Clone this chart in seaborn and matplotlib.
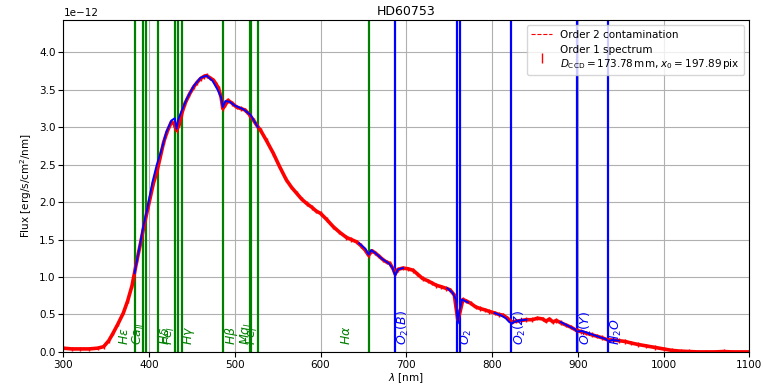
import numpy as np
import seaborn as sns
import matplotlib.pyplot as plt
from matplotlib import transforms

# Order 1 spectrum (flux in 1e-12 erg/s/cm2/nm)
spec_wl = [300, 310, 320, 330, 340, 347, 353, 358, 364, 370, 375, 380, 386, 390, 394,
           399, 405, 409, 413, 417, 421, 426, 429, 432, 435, 438, 442, 447, 452, 456,
           460, 464, 467, 471, 475, 478, 481, 484, 486, 489, 492, 497, 502, 507, 512,
           517, 522, 526, 530, 537, 545, 552, 560, 566, 572, 578, 584, 590, 595, 600,
           607, 615, 622, 630, 636, 642, 647, 652, 656, 660, 664, 668, 673, 677, 681,
           685, 687, 690, 696, 702, 708, 713, 719, 725, 730, 735, 741, 746, 751, 756,
           760, 763, 766, 770, 775, 781, 786, 792, 797, 803, 808, 813, 818, 823, 828,
           834, 840, 847, 853, 859, 863, 867, 871, 875, 880, 886, 892, 898, 904, 910,
           916, 922, 928, 935, 941, 948, 955, 962, 970, 980, 990, 1000, 1010, 1020, 1030,
           1040, 1050, 1060, 1070, 1080, 1090, 1100]
spec_flux = [0.05, 0.04, 0.04, 0.04, 0.05, 0.07, 0.15, 0.25, 0.38, 0.52, 0.68, 0.88, 1.23, 1.45, 1.68,
             1.94, 2.25, 2.40, 2.60, 2.80, 2.94, 3.07, 3.05, 2.96, 3.03, 3.18, 3.32, 3.44, 3.54, 3.60,
             3.65, 3.68, 3.69, 3.66, 3.63, 3.58, 3.52, 3.40, 3.25, 3.30, 3.36, 3.32, 3.27, 3.25, 3.23,
             3.17, 3.09, 3.02, 2.96, 2.82, 2.65, 2.48, 2.30, 2.20, 2.12, 2.04, 1.98, 1.93, 1.88, 1.85,
             1.77, 1.67, 1.60, 1.53, 1.50, 1.47, 1.42, 1.36, 1.29, 1.35, 1.32, 1.28, 1.23, 1.20, 1.18,
             1.10, 1.04, 1.10, 1.12, 1.11, 1.09, 1.04, 0.98, 0.95, 0.92, 0.89, 0.87, 0.85, 0.83, 0.76,
             0.43, 0.55, 0.70, 0.68, 0.65, 0.60, 0.58, 0.56, 0.54, 0.52, 0.50, 0.49, 0.45, 0.40, 0.41,
             0.42, 0.43, 0.43, 0.45, 0.44, 0.41, 0.44, 0.40, 0.42, 0.39, 0.36, 0.33, 0.29, 0.27, 0.25,
             0.23, 0.21, 0.19, 0.16, 0.16, 0.15, 0.14, 0.12, 0.10, 0.08, 0.06, 0.04, 0.02, 0.01, 0.005,
             0.0, 0.0, 0.0, 0.005, 0.0, 0.0, 0.0]
spec_err = 0.03

# Order 2 contamination (negligible, sits under the spectrum at the red end)
contam_wl = [1040, 1070, 1100]
contam_flux = [0.0, 0.0, 0.0]

# line fits (blue) around absorption features
fit_segments = {
    'A': ([383, 388, 393, 398, 404, 409, 414, 420, 426, 430, 432, 434, 438, 444, 452, 460, 467,
           474, 480, 484, 486, 489, 494, 500, 510, 518, 527],
          [1.05, 1.35, 1.66, 1.92, 2.27, 2.50, 2.68, 2.93, 3.09, 3.12, 2.98, 3.10, 3.22, 3.38, 3.55,
           3.66, 3.69, 3.62, 3.50, 3.40, 3.27, 3.35, 3.34, 3.29, 3.24, 3.17, 3.00]),
    'B': ([645, 652, 656, 659, 665, 672, 680, 684, 687, 690, 696],
          [1.45, 1.38, 1.30, 1.36, 1.31, 1.24, 1.18, 1.12, 1.02, 1.10, 1.12]),
    'C': ([748, 754, 758, 760, 762, 765, 772],
          [0.85, 0.79, 0.70, 0.38, 0.55, 0.70, 0.66]),
    'D': ([803, 810, 816, 820, 823, 826, 832, 840],
          [0.52, 0.49, 0.45, 0.40, 0.38, 0.40, 0.42, 0.43]),
    'E': ([880, 890, 897, 899, 905, 915, 925, 933, 936, 940, 948],
          [0.40, 0.34, 0.30, 0.27, 0.28, 0.24, 0.20, 0.17, 0.14, 0.16, 0.15]),
}

# spectral lines
stellar_lines = [383.5, 393.4, 396.8, 410.2, 430.8, 434.0, 438.4, 486.3, 517.3, 518.4, 527.0, 656.3]
atmo_lines = [686.7, 759.4, 762.5, 822.0, 898.8, 935.0]
stellar_labels = ['$H\\epsilon$', '$Ca_{II}$', '$H\\delta$', '$Fe_I$', '$H\\gamma$',
                  '$H\\beta$', '$Mg_I$', '$Fe_I$', '$H\\alpha$']
stellar_label_x = [371, 388, 419, 424, 446, 496, 513, 521, 630]
atmo_labels = ['$O_2(B)$', '$O_2$', '$O_2(Z)$', '$O_2(Y)$', '$H_2O$']
atmo_label_x = [696, 770, 832, 910, 945]

scale = 1e-12

fig = plt.figure(figsize=(7.63, 3.88), dpi=100)
ax = fig.add_axes([0.083, 0.093, 0.899, 0.855])

for wl in stellar_lines:
    ax.axvline(wl, color='green', lw=1.6, zorder=1)
for wl in atmo_lines:
    ax.axvline(wl, color='blue', lw=1.6, zorder=1)

trans = transforms.blended_transform_factory(ax.transData, ax.transAxes)
for lab, xl in zip(stellar_labels, stellar_label_x):
    ax.text(xl, 0.02, lab, rotation=90, ha='center', va='bottom', color='green',
            fontsize=9, transform=trans)
for lab, xl in zip(atmo_labels, atmo_label_x):
    ax.text(xl, 0.02, lab, rotation=90, ha='center', va='bottom', color='blue',
            fontsize=9, transform=trans)

flux = np.array(spec_flux) * scale
sns.lineplot(x=contam_wl, y=np.array(contam_flux) * scale, ax=ax, color='red', lw=0.8,
             linestyle='--', label='Order 2 contamination', zorder=1.5)
sns.lineplot(x=spec_wl, y=flux, ax=ax, color='red', lw=2.6, sort=False,
             estimator=None, zorder=2)
ax.errorbar(spec_wl, flux, yerr=spec_err * scale, fmt='none', ecolor='red', lw=1,
            zorder=2,
            label='Order 1 spectrum\n$D_{\\rm CCD}=173.78\\,$mm, $x_0=197.89\\,$pix')
for key, (wl, fl) in fit_segments.items():
    sns.lineplot(x=wl, y=np.array(fl) * scale, ax=ax, color='blue', lw=1.4,
                 sort=False, estimator=None, zorder=3)

ax.set_xlim(300, 1100)
ax.set_ylim(0, 4.43e-12)
ax.set_yticks(np.arange(0, 4.01, 0.5) * scale)
ax.grid(True, color='#b0b0b0', lw=0.8)
ax.set_axisbelow(True)
ax.tick_params(labelsize=7.5, pad=2)
ax.yaxis.get_offset_text().set_fontsize(7.5)
ax.set_xlabel('$\\lambda$ [nm]', fontsize=7.5, labelpad=1)
ax.set_ylabel('Flux [erg/s/cm$^2$/nm]', fontsize=7.5)
ax.set_title('HD60753', fontsize=9, pad=4)

handles, labels = ax.get_legend_handles_labels()
ax.legend(handles, labels, loc='upper right', fontsize=7.5, framealpha=0.8)

fig.savefig('out.png', dpi=100)
